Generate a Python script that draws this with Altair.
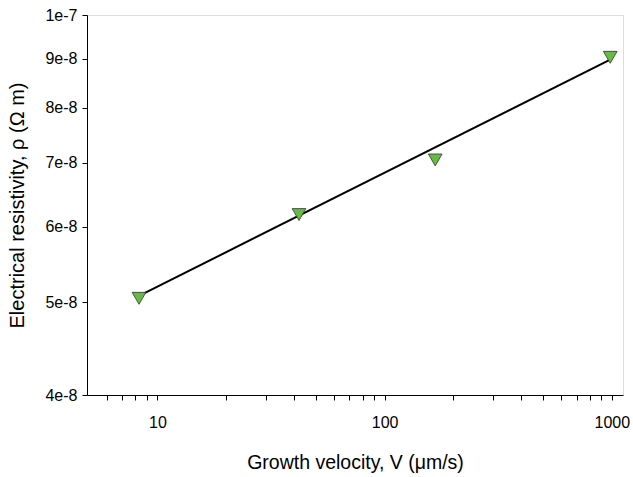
import altair as alt
import pandas as pd

# measured data points
velocity = [8.3, 42.0, 167.0, 984.0]
resistivity = [5.05e-8, 6.18e-8, 7.05e-8, 9.03e-8]

# fitted power-law line endpoints
fit_velocity = [8.3, 984.0]
fit_resistivity = [5.08e-8, 8.98e-8]

x_major = [10, 100, 1000]
x_minor = [6, 7, 8, 9, 20, 30, 40, 50, 60, 70, 80, 90,
           200, 300, 400, 500, 600, 700, 800, 900]
y_ticks = [4e-8, 5e-8, 6e-8, 7e-8, 8e-8, 9e-8, 1e-7]

pts = pd.DataFrame({"V": velocity, "rho": resistivity})
fit = pd.DataFrame({"V": fit_velocity, "rho": fit_resistivity})

FONT = "Liberation Sans"

xscale = alt.Scale(type="log", domain=[4.9, 1120], nice=False)
yscale = alt.Scale(type="log", domain=[4e-8, 1e-7], nice=False)

xaxis = alt.Axis(
    title="Growth velocity, V (\u03bcm/s)",
    values=sorted(x_major + x_minor),
    labelExpr="(datum.value == 10 || datum.value == 100 || datum.value == 1000) ? datum.label : ''",
    format="d",
    grid=False, tickSize=5, labelPadding=14, titlePadding=23,
    labelFontSize=16, titleFontSize=19.5, labelFont=FONT, titleFont=FONT,
    titleFontWeight="normal", labelColor="black", titleColor="black",
    domainColor="black", tickColor="black", labelFlush=False,
    labelOverlap=False,
)
yaxis = alt.Axis(
    title="Electrical resistivity, \u03c1 (\u03a9 m)",
    values=y_ticks, format=".0e",
    grid=False, tickSize=5, labelPadding=5, titlePadding=17,
    labelFontSize=16, titleFontSize=20, labelFont=FONT, titleFont=FONT,
    titleFontWeight="normal", labelColor="black", titleColor="black",
    domainColor="black", tickColor="black", labelOverlap=False,
)

line = alt.Chart(fit).mark_line(color="black", strokeWidth=2).encode(
    x=alt.X("V:Q", scale=xscale, axis=xaxis),
    y=alt.Y("rho:Q", scale=yscale, axis=yaxis),
)
points = alt.Chart(pts).mark_point(
    shape="triangle-down", size=190, filled=True, fill="#66bb44",
    stroke="#333333", strokeWidth=0.8, opacity=1,
).encode(
    x=alt.X("V:Q", scale=xscale),
    y=alt.Y("rho:Q", scale=yscale),
)

chart = alt.layer(line, points).properties(
    width=536, height=380,
    autosize=alt.AutoSizeParams(type="none"),
    padding={"left": 87, "top": 15, "right": 10, "bottom": 82},
).configure_view(stroke="black", strokeWidth=1).configure(background="white")

chart.save("out.html", embed_options={"renderer": "svg", "actions": False})
